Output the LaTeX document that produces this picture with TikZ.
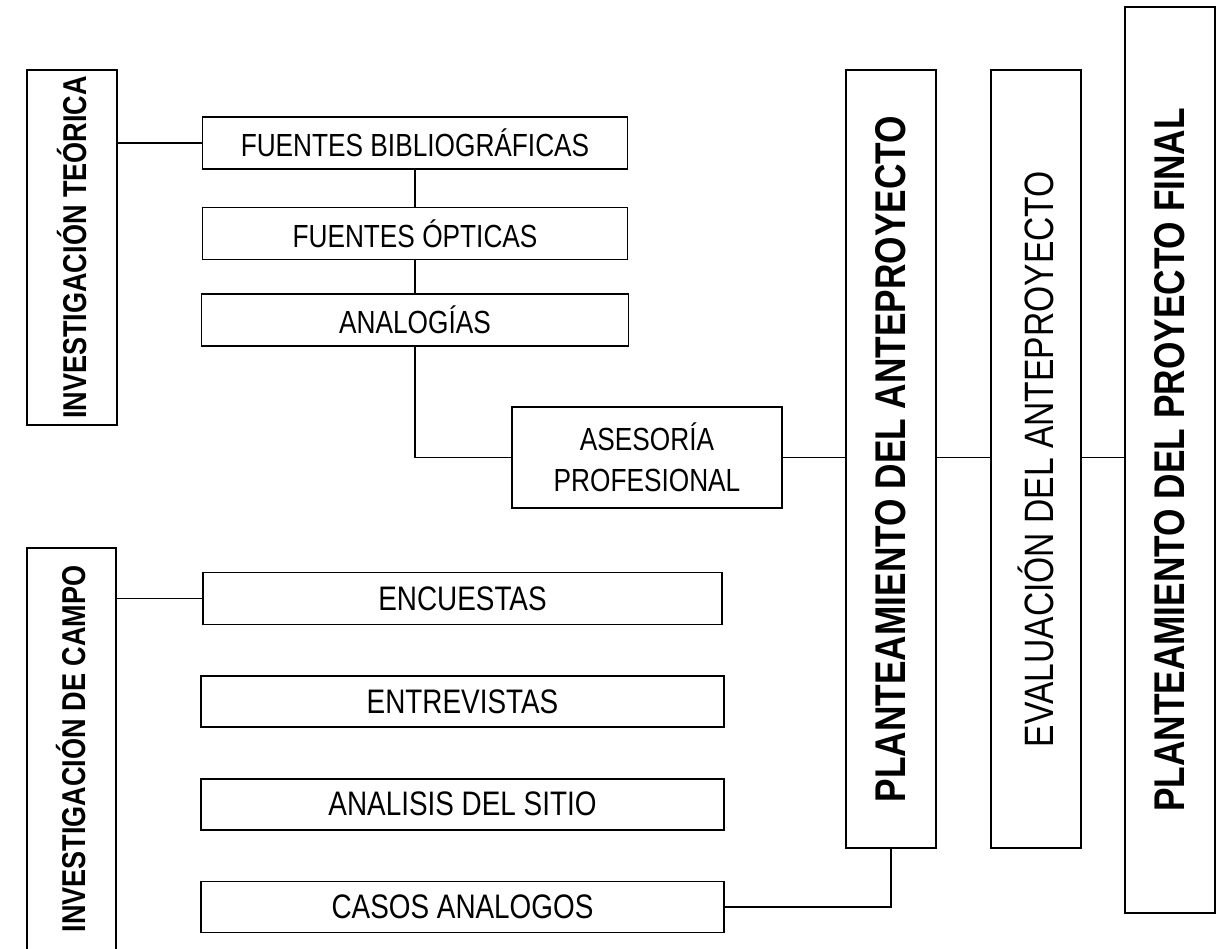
\documentclass[tikz,border=0pt]{standalone}
\usepackage{fontspec}
\setmainfont{Liberation Sans}[FakeStretch=0.82]
\usetikzlibrary{positioning}

\begin{document}
\begin{tikzpicture}[
  x=1pt,y=-1pt,
  line width=1.6pt,
  node distance=50pt,
  box/.style={draw,line width=1.6pt,inner sep=0pt,align=center,
    font=\fontsize{32}{41}\selectfont},
  vbox/.style={draw,line width=1.6pt,inner sep=0pt,rotate=90,
    font=\fontsize{33}{38}\selectfont\bfseries},
  etapa/.style={draw,line width=1.6pt,inner sep=0pt,rotate=90,
    minimum height=90pt,font=\fontsize{43}{50}\selectfont\bfseries}
]
\useasboundingbox (0,0) rectangle (1218,948);

% izquierda: investigacion
\node[vbox,minimum width=355pt,minimum height=90pt] (teo) at (72,247.5)
  {INVESTIGACIÓN TEÓRICA};
\node[vbox,minimum width=402pt,minimum height=89pt] (campo) at (71.5,749)
  {INVESTIGACIÓN DE CAMPO};

% fuentes teoricas
\node[box,minimum width=425pt,minimum height=52pt] (fb) at (415,143)
  {FUENTES BIBLIOGRÁFICAS};
\node[box,minimum width=425pt,minimum height=52pt,below=37pt of fb] (fo)
  {FUENTES ÓPTICAS};
\node[box,minimum width=427pt,minimum height=52pt,below=33pt of fo] (an)
  {ANALOGÍAS};
\node[box,minimum width=270pt,minimum height=101pt] (ase) at (647,457.5)
  {ASESORÍA\\PROFESIONAL};

% trabajo de campo
\node[box,minimum width=519pt,minimum height=52pt,font=\fontsize{34}{41}\selectfont] (enc) at (462.5,598.5)
  {ENCUESTAS};
\node[box,minimum width=523pt,minimum height=51pt,below=of enc,font=\fontsize{34}{41}\selectfont] (ent)
  {ENTREVISTAS};
\node[box,minimum width=523pt,minimum height=51pt,below=of ent,font=\fontsize{34}{41}\selectfont] (sitio)
  {ANALISIS DEL SITIO};
\node[box,minimum width=523pt,minimum height=51pt,below=of sitio,font=\fontsize{34}{41}\selectfont] (casos)
  {CASOS ANALOGOS};

% derecha: etapas
\node[etapa,minimum width=778pt] (pa) at (891,459)
  {PLANTEAMIENTO DEL ANTEPROYECTO};
\node[etapa,minimum width=778pt,font=\fontsize{41}{48}\selectfont] (ev) at (1036,459)
  {EVALUACIÓN DEL ANTEPROYECTO};
\node[etapa,minimum width=906pt] (pf) at (1170,460)
  {PLANTEAMIENTO DEL PROYECTO FINAL};

% conexiones
\draw (fb.west) -- (fb.west -| teo.south);
\draw (fb.south) -- (fo.north);
\draw (fo.south) -- (an.north);
\draw (an.south) |- (ase.west);
\draw (ase.east) -- (ase.east -| pa.north);
\draw (pa.south |- ase.east) -- (ase.east -| ev.north);
\draw (ev.south |- ase.east) -- (ase.east -| pf.north);
\draw (enc.west) -- (enc.west -| campo.south);
\draw (casos.east) -| (pa.west);
\end{tikzpicture}
\end{document}
